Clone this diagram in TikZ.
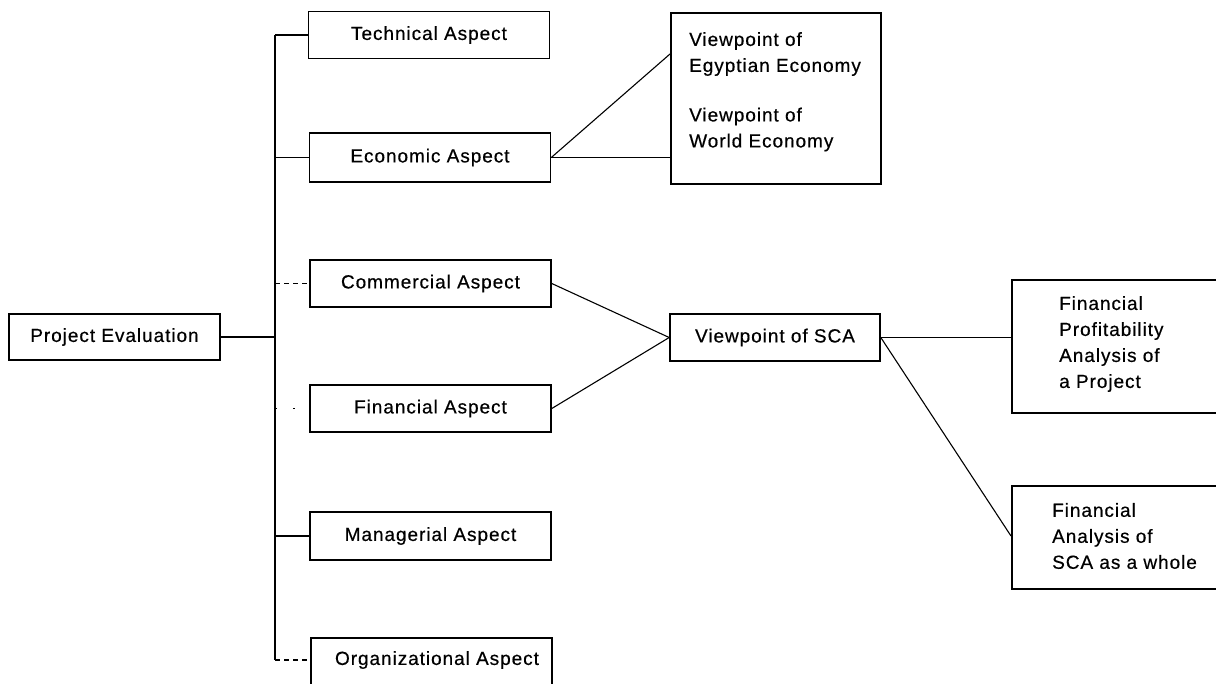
\documentclass[tikz,border=0pt]{standalone}
\usepackage{fontspec}
\setmainfont{Liberation Sans}[LetterSpace=5, FakeBold=0.5]
\usetikzlibrary{calc}
\begin{document}
\begin{tikzpicture}[x=1pt,y=-1pt,
  every node/.style={font=\fontsize{19}{26}\selectfont, inner sep=0pt},
  box/.style={draw, line width=1.6pt, minimum height=47pt},
  aspect/.style={box, minimum width=241pt},
  txt/.style={align=left, anchor=west},
  link/.style={line width=1.1pt},
  dashlink/.style={link, dash pattern=on 5pt off 4pt},
  faintlink/.style={line width=0.9pt, dash pattern=on 2pt off 16pt}
]
\useasboundingbox (0,0) rectangle (1216,683);
\clip (0,0) rectangle (1216,683);

% root
\node[box, minimum width=211pt, minimum height=46pt] (pe) at (114.5,337) {Project Evaluation};

% aspects
\node[aspect] (tech) at (429,35) {Technical Aspect};
\node[aspect, minimum height=49pt] (econ) at (430,157.5) {Economic Aspect};
\node[aspect] (comm) at (430.5,283.5) {Commercial Aspect};
\node[aspect] (fin) at (430.5,408.5) {Financial Aspect};
\node[aspect, minimum height=48pt] (mgr) at (430.5,536) {Managerial Aspect};
\node[aspect, minimum height=70pt, anchor=north west] (org) at (310,637) {};
\node (orgtext) at (437,660) {Organizational Aspect};

% spine of the tree
\coordinate (sptop) at (tech.west -| 275,0);
\coordinate (spbot) at (275,660);

% economic viewpoints
\node[box, minimum width=210pt, minimum height=171pt, anchor=north west] (vp) at (670,12) {};
\node[txt] (vpe) at (689,54) {Viewpoint of\\Egyptian Economy};
\node[txt] (vpw) at (689,129.5) {Viewpoint of\\World Economy};

% SCA viewpoint
\node[box, minimum width=210pt] (sca) at (775,337.5) {Viewpoint of SCA};

% financial analyses, running on past the right edge
\node[box, minimum width=300pt, minimum height=133pt, anchor=north west] (fp) at (1011,279) {};
\node[txt] (fptext) at (1059,344) {Financial\\Profitability\\Analysis of\\a Project};
\node[box, minimum width=300pt, minimum height=103pt, anchor=north west] (fa) at (1011,485) {};
\node[txt] (fatext) at (1052,536) {Financial\\Analysis of\\SCA as a whole};

% tree connectors
\draw[link] (pe.east) -- (pe.east -| sptop);
\draw[link] (sptop) -- (spbot);
\draw[link] (sptop) -- (tech.west);
\draw[link] (econ.west -| sptop) -- (econ.west);
\draw[dashlink] (comm.west -| sptop) -- (comm.west);
\draw[faintlink] (fin.west -| sptop) -- (fin.west);
\draw[link] (mgr.west -| sptop) -- (mgr.west);
\draw[dashlink] (spbot) -- (spbot -| org.west);

% economic aspect to its viewpoints
\draw[link] (econ.east) -- (vp.west |- vpe.west);
\draw[link] (econ.east) -- (vp.west |- econ.east);

% commercial and financial aspects to SCA
\draw[link] (comm.east) -- (sca.west);
\draw[link] (fin.east) -- (sca.west);

% SCA to the analyses
\draw[link] (sca.east) -- (fp.west |- sca.east);
\draw[link] (sca.east) -- (fa.west |- fatext.west);
\end{tikzpicture}
\end{document}
